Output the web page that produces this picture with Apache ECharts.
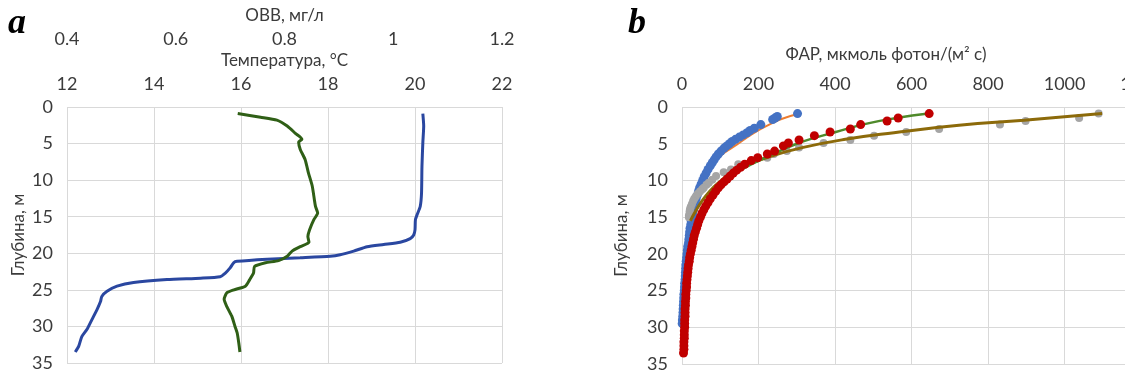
<!DOCTYPE html>
<html><head><meta charset="utf-8">
<script src="https://cdn.jsdelivr.net/npm/echarts/dist/echarts.min.js"></script>
<style>html,body{margin:0;padding:0;background:#fff;overflow:hidden}#wrap{width:1125px;height:373px;overflow:hidden;position:relative}#c{width:1165px;height:373px;position:absolute;left:0;top:0}</style>
</head><body><div id="wrap"><div id="c"></div></div><script>
// ---- Panel a: temperature and OVB profiles ----
const tempDepth = [0.9,2.6,4.9,8.1,11.8,13.6,14.7,15.4,16.8,17.5,18.0,18.5,18.8,19.1,19.7,20.2,20.4,20.6,20.8,21.1,21.3,22.0,22.7,23.2,23.4,23.6,24.0,24.5,25.2,25.9,26.6,27.7,29.1,30.4,31.4,32.7,33.5];
const tempValues = [20.18,20.20,20.18,20.16,20.15,20.12,20.05,20.01,20.0,19.97,19.89,19.66,19.28,18.90,18.59,18.28,18.05,17.36,16.60,15.91,15.83,15.75,15.64,15.52,15.07,14.30,13.53,13.15,12.92,12.80,12.77,12.69,12.57,12.46,12.34,12.27,12.19];
const ovbDepth = [0.9,1.4,1.8,2.6,3.6,4.4,4.8,5.8,7.2,9.0,10.8,12.7,13.6,14.5,15.4,16.8,17.7,18.5,19.1,19.7,20.4,21.0,21.3,21.8,22.7,23.6,24.5,25.0,25.4,26.3,27.3,28.6,30.0,30.9,32.3,33.5];
const ovbValues = [0.714,0.756,0.786,0.805,0.820,0.832,0.826,0.829,0.838,0.844,0.851,0.855,0.857,0.861,0.854,0.846,0.843,0.845,0.829,0.814,0.805,0.789,0.765,0.745,0.743,0.736,0.728,0.707,0.694,0.689,0.694,0.703,0.709,0.713,0.716,0.718];
const tempTicks = {min: 12, max: 22, step: 2};
const ovbTicks = {min: 0.4, max: 1.2, step: 0.2};
const depthTicks = {min: 0, max: 35, step: 5};

// ---- Panel b: PAR profiles (dots) and fitted curves ----
const blueDepth = [0.9,1.3,1.5,1.7,2.4,2.9,3.2,3.5,3.8,4.1,4.4,4.7,5.0,5.3,5.6,6.0,6.4,6.8,7.2,7.6,8.0,8.5,9.0,9.5,10.0,10.5,11.0,11.5,12.0,12.5,13.0,13.5,14.0,14.5,15.0,15.5,16.0,16.5,17.0,17.5,18.0,18.5,19.0,19.5,20.0,20.5,21.0,21.5,22.0,22.5,23.0,23.5,24.0,24.5,25.0,25.5,26.0,26.5,27.0,27.5,28.0,28.5,29.0,29.5];
const blueFar = [302,249,243,237,206,189,178,170,160,150,140,131,124,117,110,102,95,89,84,79,74,68,63,58,54,50,46,43,40,37,35,32,30,28,26,24,23,21,20,19,18,17,15,14,13,12,11,10,9.5,9,8.5,8,7,6.5,6,5,4.5,4,3.5,3,2.5,2,1,0.5];
const orangeDepth = [1.0,1.6,2.2,3.0,3.8,4.7,5.5,6.6,7.9,9.4,11.2,13.5,16.5,20.5,25.0,29.5];
const orangeFar = [300,262,236,205,180,155,132,102,80,62,47,33,21,12,6,2];

const redDepth = [0.9,1.5,1.9,2.4,3.0,3.4,3.9,4.5,4.9,5.3,6.0,6.4,6.9,7.3,7.8,8.2,8.6,9.0,9.4,9.8,10.2,10.6,11.0,11.5,12.0,12.5,13.0,13.5,14.0,14.5,15.0,15.5,16.0,16.5,17.0,17.5,18.0,18.5,19.0,19.5,20.0,20.5,21.0,21.5,22.0,22.5,23.0,23.5,24.0,24.5,25.0,25.5,26.0,26.5,27.0,27.5,28.0,28.5,29.0,29.5,30.0,30.5,31.0,31.5,32.0,32.5,33.0,33.5];
const redFar = [646,565,536,467,440,387,346,306,278,265,242,223,198,181,164,153,143,134,126,118,110,102,95,88,81,74,68,62,57,52,48,44,41,38,35,32,30,28,26,24,22,20,19,17,16,15,14,13,12,12,11,10,10,9,9,8,8,8,7,7,7,6,6,6,5,5,5,4];
const greenDepth = [0.9,1.5,2.3,3.4,4.3,5.0,6.0,7.2,8.4,9.8,11.2,13.2,15.5,18.5,22.0,26.0,30.0,33.5];
const greenFar = [644,560,480,402,340,300,255,205,160,118,88,62,42,27,16,9,5,3];

const greyDepth = [0.9,1.5,1.9,2.4,3.0,3.4,3.9,4.5,4.9,5.5,6.0,6.4,6.9,7.8,8.5,8.9,9.4,9.9,10.3,10.6,11.0,11.2,11.5,11.8,12.2,12.5,12.8,13.2,13.6,13.9,14.2,14.5,14.8,15.0];
const greyFar = [1089,1038,898,831,672,586,502,440,370,306,274,240,223,147,128,109,89,79,70,64,57,53,47,41,36,32,29,26,23,21,20,20,18,18];
const brownDepth = [0.9,1.8,2.5,3.5,4.4,5.5,6.7,7.9,9.0,10.2,11.5,13.0,14.5,15.5];
const brownFar = [1098,894,724,554,427,317,232,170,128,98,72,50,32,22];
const farTicks = {min: 0, max: 1200, step: 200};

const pairs = (xs, ys) => xs.map((x, i) => [x, ys[i]]);

const FONT = 'Lato';
const TXT = '#3b3b3b';
const GRID = '#d9d9d9';
const lbl = {fontFamily: FONT, fontSize: 18, color: TXT, formatter: v => String(v)};
const nameStyle = {fontFamily: FONT, fontSize: 17, color: TXT};

function xAx(grid, t, extra) {
  return Object.assign({
    gridIndex: grid, type: 'value', position: 'top',
    min: t.min, max: t.max, interval: t.step,
    axisLine: {show: false}, axisTick: {show: false},
    axisLabel: Object.assign({margin: 14}, lbl),
    splitLine: {show: true, lineStyle: {color: GRID, width: 1}},
    nameLocation: 'middle', nameTextStyle: nameStyle
  }, extra);
}
function yAx(grid, gap) {
  return {
    gridIndex: grid, type: 'value', inverse: true,
    min: depthTicks.min, max: depthTicks.max, interval: depthTicks.step,
    axisLine: {show: false}, axisTick: {show: false},
    axisLabel: Object.assign({margin: 14}, lbl),
    splitLine: {show: true, lineStyle: {color: GRID, width: 1}},
    name: 'Глубина, м', nameLocation: 'middle', nameGap: gap, nameRotate: 90,
    nameTextStyle: nameStyle
  };
}

const chart = echarts.init(document.getElementById('c'), null, {renderer: 'canvas'});
chart.setOption({
  animation: false,
  backgroundColor: '#ffffff',
  grid: [
    {left: 67, top: 107, width: 435, height: 256},
    {left: 682, top: 107, width: 472, height: 260}
  ],
  xAxis: [
    xAx(0, tempTicks, {name: 'Температура, °C', nameGap: 38}),
    xAx(0, ovbTicks, {name: 'ОВВ, мг/л', nameGap: 38, offset: 45, splitLine: {show: false}}),
    xAx(1, farTicks, {})
  ],
  yAxis: [yAx(0, 40), yAx(1, 52)],
  graphic: [
    {type: 'text', left: 8, top: 6, style: {text: 'a', font: 'italic bold 36px "Liberation Serif"', fill: '#000'}},
    {type: 'text', left: 628, top: 6, style: {text: 'b', font: 'italic bold 36px "Liberation Serif"', fill: '#000'}},
    {type: 'text', x: 886, y: 55, style: {text: 'ФАР, мкмоль фотон/(м² с)', font: '17px Lato', fill: TXT, align: 'center', verticalAlign: 'middle'}}
  ],
  series: [
    {type: 'line', xAxisIndex: 0, yAxisIndex: 0, data: pairs(tempValues, tempDepth), showSymbol: false, smooth: 0.2,
     lineStyle: {color: '#2a47a0', width: 3}},
    {type: 'line', xAxisIndex: 1, yAxisIndex: 0, data: pairs(ovbValues, ovbDepth), showSymbol: false, smooth: 0.2,
     lineStyle: {color: '#2f5f16', width: 3}},
    {type: 'line', xAxisIndex: 2, yAxisIndex: 1, z: 2, data: pairs(orangeFar, orangeDepth), showSymbol: false, smooth: true,
     lineStyle: {color: '#ED7D31', width: 2}},
    {type: 'scatter', xAxisIndex: 2, yAxisIndex: 1, z: 2, data: pairs(blueFar, blueDepth), symbolSize: 9,
     itemStyle: {color: '#4472C4', opacity: 1}},
    {type: 'scatter', xAxisIndex: 2, yAxisIndex: 1, z: 2, data: pairs(greyFar, greyDepth), symbolSize: 8,
     itemStyle: {color: '#A5A5A5', opacity: 1}},
    {type: 'line', xAxisIndex: 2, yAxisIndex: 1, z: 3, data: pairs(brownFar, brownDepth), showSymbol: false, smooth: true,
     lineStyle: {color: '#8c6a0a', width: 3}},
    {type: 'line', xAxisIndex: 2, yAxisIndex: 1, z: 3, data: pairs(greenFar, greenDepth), showSymbol: false, smooth: true,
     lineStyle: {color: '#4f8a2b', width: 2.5}},
    {type: 'scatter', xAxisIndex: 2, yAxisIndex: 1, z: 4, data: pairs(redFar, redDepth), symbolSize: 9,
     itemStyle: {color: '#C00000', opacity: 1}}
  ]
});
</script></body></html>
